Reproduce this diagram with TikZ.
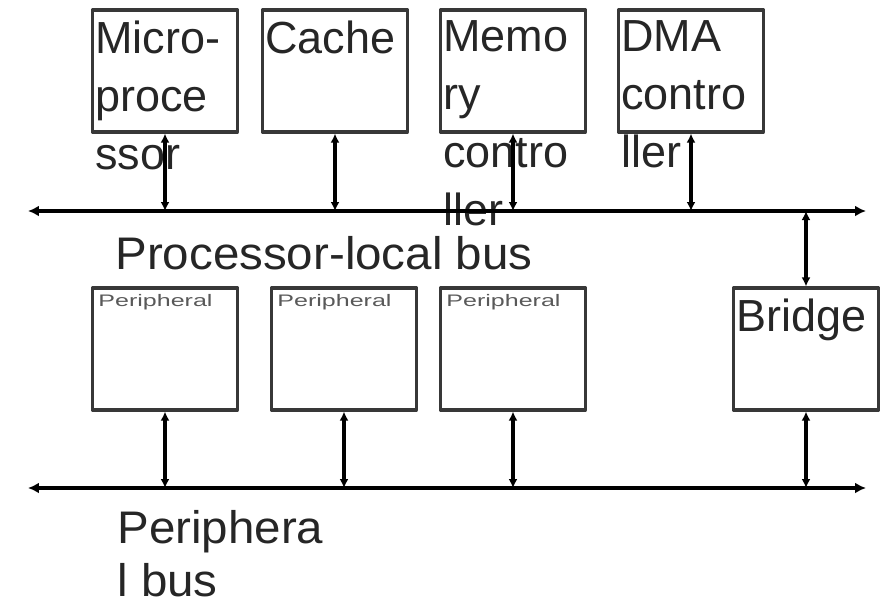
\documentclass[tikz,border=0pt]{standalone}
\usepackage{fontspec}
\setmainfont{Liberation Sans}
\usetikzlibrary{arrows.meta,positioning}
\tikzset{
  every picture/.append style={line cap=round,line join=round},
  soc box/.style={draw=black!78,line width=1.8pt,minimum width=2.9cm,minimum height=2.44cm,inner sep=0pt},
  soc text/.style={anchor=north west,align=left,inner sep=0pt,text=black!85,font=\fontsize{25.6}{33}\selectfont},
  soc tiny/.style={anchor=north west,inner sep=0pt,text=black!65,font=\fontsize{9.5}{10}\selectfont,xscale=1.5},
  soc bus/.style={line width=2.4pt,{Latex[length=2.2mm,width=2.2mm]}-{Latex[length=2.2mm,width=2.2mm]}},
  soc link/.style={line width=1.8pt,{Latex[length=1.8mm,width=1.8mm]}-{Latex[length=1.8mm,width=1.8mm]}},
  soc label/.style={anchor=north west,align=left,inner sep=0pt,text=black!85,font=\fontsize{26}{30}\selectfont,xscale=1.04}
}
\begin{document}
\begin{tikzpicture}[x=0.02cm,y=-0.02cm]
  \useasboundingbox (0,0) rectangle (883,606);
  \node[soc box] (micro) at (165,71) {};
  \node[soc box] (cache) at (335,71) {};
  \node[soc box] (memory) at (513,71) {};
  \node[soc box] (dma) at (691,71) {};
  \node[soc box] (per1) at (165,349) {};
  \node[soc box] (per2) at (344,349) {};
  \node[soc box] (per3) at (513,349) {};
  \node[soc box] (bridge) at (806,349) {};
  \node[soc text] (microtext) at ([shift={(4,12)}]micro.north west) {Micro-\\proce\\ssor};
  \node[soc text] (cachetext) at ([shift={(4,12)}]cache.north west) {Cache};
  \node[soc text] (memorytext) at ([shift={(4,12)}]memory.north west) {Memo\\ry\\contro\\ller};
  \node[soc text] (dmatext) at ([shift={(4,12)}]dma.north west) {DMA\\contro\\ller};
  \node[soc tiny] (per1text) at ([shift={(7,8)}]per1.north west) {Peripheral};
  \node[soc tiny] (per2text) at ([shift={(7,8)}]per2.north west) {Peripheral};
  \node[soc tiny] (per3text) at ([shift={(7,8)}]per3.north west) {Peripheral};
  \node[soc text] (bridgetext) at ([shift={(4,12)}]bridge.north west) {Bridge};
  \coordinate (plbW) at (28,211);
  \coordinate (plbE) at (866,211);
  \coordinate (pbW) at (28,488);
  \coordinate (pbE) at (866,488);
  \draw[soc bus] (plbW) -- (plbE);
  \draw[soc bus] (pbW) -- (pbE);
  \draw[soc link] (micro.south) -- (micro.south |- plbW);
  \draw[soc link] (cache.south) -- (cache.south |- plbW);
  \draw[soc link] (memory.south) -- (memory.south |- plbW);
  \draw[soc link] (dma.south) -- (dma.south |- plbW);
  \draw[soc link] (bridge.north |- plbW) -- (bridge.north);
  \draw[soc link] (per1.south) -- (per1.south |- pbW);
  \draw[soc link] (per2.south) -- (per2.south |- pbW);
  \draw[soc link] (per3.south) -- (per3.south |- pbW);
  \draw[soc link] (bridge.south) -- (bridge.south |- pbW);
  \node[soc label] (plblabel) at (115,236) {Processor-local bus};
  \node[soc label] (pblabel) at (117,510) {Periphera\\l bus};
\end{tikzpicture}
\end{document}
